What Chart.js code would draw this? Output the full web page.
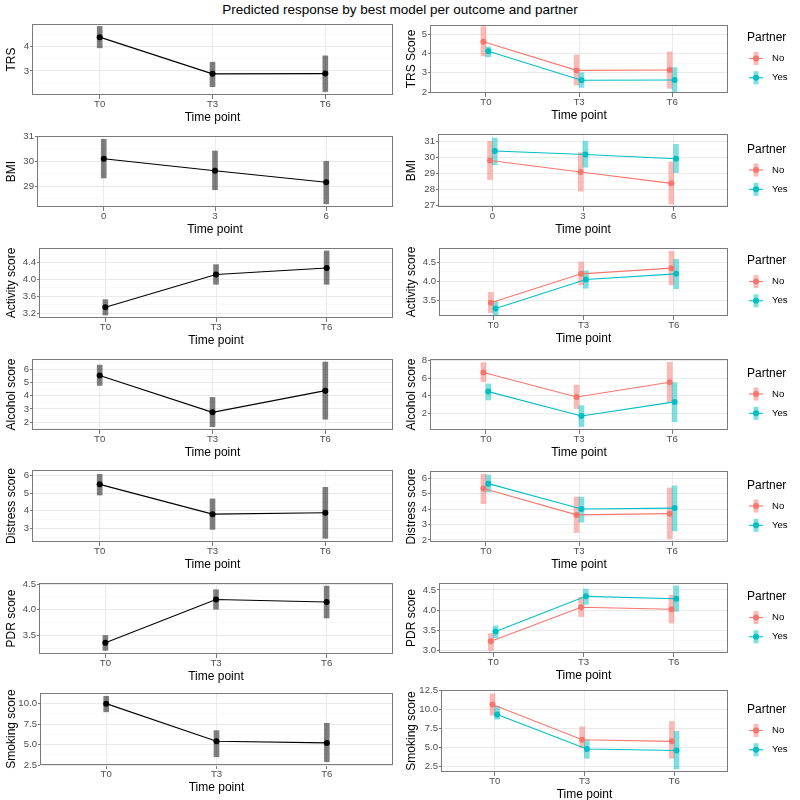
<!DOCTYPE html>
<html><head><meta charset="utf-8">
<script src="https://cdn.jsdelivr.net/npm/chart.js@4.4.1/dist/chart.umd.min.js"></script>
<style>
body{margin:0;background:#fff;width:800px;height:800px;position:relative;overflow:hidden;font-family:"Liberation Sans",Arial,sans-serif}
canvas{position:absolute}
#title{position:absolute;left:0;top:2px;width:800px;text-align:center;font-size:13.5px;color:#000;line-height:16px}
</style></head><body>
<div id="title">Predicted response by best model per outcome and partner</div>
<script>
// ---------- categories ----------
const timeLabelsT = ["T0", "T3", "T6"];
const timeLabelsBMI = ["0", "3", "6"];
const partnerGroups = ["No", "Yes"];

// ---------- TRS ----------
const trsMean = [4.39, 2.88, 2.89];
const trsLow = [3.95, 2.35, 2.15];
const trsHigh = [4.83, 3.36, 3.62];
const trsNoMean = [4.60, 3.12, 3.14];
const trsNoLow = [3.87, 2.36, 2.19];
const trsNoHigh = [5.38, 3.92, 4.08];
const trsYesMean = [4.11, 2.61, 2.62];
const trsYesLow = [3.82, 2.24, 1.97];
const trsYesHigh = [4.34, 3.00, 3.27];
const trsTicksL = ["3", "4"];
const trsTicksR = ["2", "3", "4", "5"];

// ---------- BMI ----------
const bmiMean = [30.10, 29.62, 29.16];
const bmiLow = [29.33, 28.86, 28.30];
const bmiHigh = [30.88, 30.41, 30.00];
const bmiNoMean = [29.79, 29.07, 28.36];
const bmiNoLow = [28.60, 27.87, 27.06];
const bmiNoHigh = [31.00, 30.28, 29.70];
const bmiYesMean = [30.39, 30.17, 29.90];
const bmiYesLow = [29.53, 29.37, 29.03];
const bmiYesHigh = [31.20, 31.00, 30.80];
const bmiTicksL = ["29", "30", "31"];
const bmiTicksR = ["27", "28", "29", "30", "31"];

// ---------- Activity ----------
const actMean = [3.34, 4.11, 4.26];
const actLow = [3.16, 3.88, 3.88];
const actHigh = [3.52, 4.34, 4.66];
const actNoMean = [3.43, 4.19, 4.34];
const actNoLow = [3.17, 3.90, 3.90];
const actNoHigh = [3.70, 4.50, 4.78];
const actYesMean = [3.28, 4.04, 4.19];
const actYesLow = [3.10, 3.81, 3.80];
const actYesHigh = [3.46, 4.27, 4.57];
const actTicksL = ["3.2", "3.6", "4.0", "4.4"];
const actTicksR = ["3.5", "4.0", "4.5"];

// ---------- Alcohol ----------
const alcMean = [5.52, 2.75, 4.38];
const alcLow = [4.77, 1.67, 2.23];
const alcHigh = [6.30, 3.87, 6.53];
const alcNoMean = [6.66, 3.85, 5.53];
const alcNoLow = [5.58, 2.50, 3.30];
const alcNoHigh = [7.77, 5.20, 7.81];
const alcYesMean = [4.46, 1.66, 3.28];
const alcYesLow = [3.50, 0.45, 1.02];
const alcYesHigh = [5.34, 2.85, 5.50];
const alcTicksL = ["2", "3", "4", "5", "6"];
const alcTicksR = ["2", "4", "6", "8"];

// ---------- Distress ----------
const disMean = [5.51, 3.81, 3.89];
const disLow = [4.90, 2.94, 2.43];
const disHigh = [6.08, 4.68, 5.34];
const disNoMean = [5.33, 3.62, 3.70];
const disNoLow = [4.35, 2.48, 2.07];
const disNoHigh = [6.26, 4.78, 5.37];
const disYesMean = [5.65, 4.00, 4.06];
const disYesLow = [5.10, 3.15, 2.58];
const disYesHigh = [6.21, 4.78, 5.50];
const disTicksL = ["3", "4", "5", "6"];
const disTicksR = ["2", "3", "4", "5", "6"];

// ---------- PDR ----------
const pdrMean = [3.36, 4.20, 4.15];
const pdrLow = [3.21, 4.01, 3.84];
const pdrHigh = [3.50, 4.39, 4.46];
const pdrNoMean = [3.23, 4.07, 4.02];
const pdrNoLow = [3.00, 3.84, 3.68];
const pdrNoHigh = [3.42, 4.32, 4.37];
const pdrYesMean = [3.47, 4.34, 4.28];
const pdrYesLow = [3.32, 4.14, 3.97];
const pdrYesHigh = [3.61, 4.52, 4.60];
const pdrTicksL = ["3.5", "4.0", "4.5"];
const pdrTicksR = ["3.0", "3.5", "4.0", "4.5"];

// ---------- Smoking ----------
const smkMean = [10.0, 5.4, 5.2];
const smkLow = [9.0, 3.5, 2.9];
const smkHigh = [10.9, 6.7, 7.6];
const smkNoMean = [10.6, 6.0, 5.8];
const smkNoLow = [9.2, 5.0, 3.6];
const smkNoHigh = [12.0, 7.7, 8.4];
const smkYesMean = [9.3, 4.8, 4.6];
const smkYesLow = [8.7, 3.6, 2.2];
const smkYesHigh = [10.4, 6.0, 7.1];
const smkTicksL = ["2.5", "5.0", "7.5", "10.0"];
const smkTicksR = ["2.5", "5.0", "7.5", "10.0", "12.5"];

// ---------- panel definitions ----------
const outcomes = [
  {x: timeLabelsT, lt: "TRS", lticks: trsTicksL, l: [trsMean, trsLow, trsHigh],
   rt: "TRS Score", rticks: trsTicksR, no: [trsNoMean, trsNoLow, trsNoHigh], yes: [trsYesMean, trsYesLow, trsYesHigh]},
  {x: timeLabelsBMI, lt: "BMI", lticks: bmiTicksL, l: [bmiMean, bmiLow, bmiHigh],
   rt: "BMI", rticks: bmiTicksR, no: [bmiNoMean, bmiNoLow, bmiNoHigh], yes: [bmiYesMean, bmiYesLow, bmiYesHigh]},
  {x: timeLabelsT, lt: "Activity score", lticks: actTicksL, l: [actMean, actLow, actHigh],
   rt: "Activity score", rticks: actTicksR, no: [actNoMean, actNoLow, actNoHigh], yes: [actYesMean, actYesLow, actYesHigh]},
  {x: timeLabelsT, lt: "Alcohol score", lticks: alcTicksL, l: [alcMean, alcLow, alcHigh],
   rt: "Alcohol score", rticks: alcTicksR, no: [alcNoMean, alcNoLow, alcNoHigh], yes: [alcYesMean, alcYesLow, alcYesHigh]},
  {x: timeLabelsT, lt: "Distress score", lticks: disTicksL, l: [disMean, disLow, disHigh],
   rt: "Distress score", rticks: disTicksR, no: [disNoMean, disNoLow, disNoHigh], yes: [disYesMean, disYesLow, disYesHigh]},
  {x: timeLabelsT, lt: "PDR score", lticks: pdrTicksL, l: [pdrMean, pdrLow, pdrHigh],
   rt: "PDR score", rticks: pdrTicksR, no: [pdrNoMean, pdrNoLow, pdrNoHigh], yes: [pdrYesMean, pdrYesLow, pdrYesHigh]},
  {x: timeLabelsT, lt: "Smoking score", lticks: smkTicksL, l: [smkMean, smkLow, smkHigh],
   rt: "Smoking score", rticks: smkTicksR, no: [smkNoMean, smkNoLow, smkNoHigh], yes: [smkYesMean, smkYesLow, smkYesHigh]}
];

// layout: plot-area box (page px) and axis limits for each panel
const panelLayout = [
  {L: {px: 32, top: 24, bot: 95, min: 2.01, max: 4.93},   R: {px: 430, top: 25, bot: 93, min: 1.95, max: 5.47}},
  {L: {px: 37, top: 136, bot: 207, min: 28.17, max: 31.01}, R: {px: 438, top: 134, bot: 207, min: 26.88, max: 31.45}},
  {L: {px: 39, top: 248, bot: 318, min: 3.09, max: 4.73},  R: {px: 439, top: 248, bot: 316, min: 3.08, max: 4.87}},
  {L: {px: 32, top: 359, bot: 430, min: 1.42, max: 6.76},  R: {px: 430, top: 359, bot: 430, min: 0.06, max: 8.2}},
  {L: {px: 32, top: 470, bot: 542, min: 2.22, max: 6.33},  R: {px: 430, top: 471, bot: 542, min: 1.86, max: 6.47}},
  {L: {px: 39, top: 583, bot: 654, min: 3.14, max: 4.52},  R: {px: 439, top: 583, bot: 653, min: 2.94, max: 4.67}},
  {L: {px: 40, top: 693, bot: 765, min: 2.5, max: 11.3},   R: {px: 441, top: 690, bot: 772, min: 1.8, max: 12.5}}
];

const FONT = "'Liberation Sans', Arial, sans-serif";
const COL_NO = "#F8766D", COL_YES = "#00BFC4";
const FILL_NO = "rgba(248,118,109,0.5)", FILL_YES = "rgba(0,191,196,0.5)";
const DODGE = 0.026;

const borderPlugin = {
  id: 'panelBorder',
  afterDatasetsDraw(chart) {
    const a = chart.chartArea, ctx = chart.ctx;
    ctx.save();
    ctx.strokeStyle = '#7a7a7a';
    ctx.lineWidth = 1;
    ctx.strokeRect(Math.round(a.left) + 0.5, Math.round(a.top) + 0.5, Math.round(a.right - a.left) - 1, Math.round(a.bottom - a.top) - 1);
    ctx.restore();
  }
};

function legendPlugin(canvasLeft) {
  return {
    id: 'partnerLegend',
    afterDraw(chart) {
      const a = chart.chartArea, ctx = chart.ctx;
      const mid = (a.top + a.bottom) / 2;
      ctx.save();
      ctx.font = '12px ' + FONT;
      ctx.fillStyle = '#000';
      ctx.textBaseline = 'middle';
      ctx.textAlign = 'left';
      ctx.fillText('Partner', 747 - canvasLeft, mid - 21);
      const kx = 756 - canvasLeft;
      const rows = [[partnerGroups[0], COL_NO, FILL_NO, mid - 0.5], [partnerGroups[1], COL_YES, FILL_YES, mid + 18.8]];
      rows.forEach(([lab, col, fill, y]) => {
        ctx.fillStyle = fill;
        ctx.fillRect(kx - 2.5, y - 6.5, 5, 13);
        ctx.strokeStyle = col; ctx.lineWidth = 1.1;
        ctx.beginPath(); ctx.moveTo(kx - 7, y); ctx.lineTo(kx + 7, y); ctx.stroke();
        ctx.fillStyle = col;
        ctx.beginPath(); ctx.arc(kx, y, 3, 0, Math.PI * 2); ctx.fill();
        ctx.fillStyle = '#000';
        ctx.font = '9.6px ' + FONT;
        ctx.fillText(lab, 772 - canvasLeft, y);
      });
      ctx.restore();
    }
  };
}

function rangeData(low, high, off) { return low.map((l, i) => ({x: i + 1 + off, y: [l, high[i]]})); }
function pointData(mean, off) { return mean.map((v, i) => ({x: i + 1 + off, y: v})); }

function makePanel(o, lay, side) {
  const canvasLeft = side === 'L' ? 0 : 400;
  const canvasW = 400;
  const plotRight = side === 'L' ? 393 : 728;
  const padTop = 8, xh = 30;
  const cv = document.createElement('canvas');
  const h = (lay.bot - lay.top) + padTop + xh;
  cv.width = canvasW; cv.height = h;
  cv.style.left = canvasLeft + 'px';
  cv.style.top = (lay.top - padTop) + 'px';
  cv.style.width = canvasW + 'px'; cv.style.height = h + 'px';
  document.body.appendChild(cv);

  const tickStrs = side === 'L' ? o.lticks : o.rticks;
  const yTitle = side === 'L' ? o.lt : o.rt;
  let datasets = [];
  if (side === 'L') {
    const [m, lo, hi] = o.l;
    datasets.push({type: 'bar', data: rangeData(lo, hi, 0), backgroundColor: 'rgba(0,0,0,0.5)', order: 2});
    datasets.push({type: 'line', data: pointData(m, 0), borderColor: '#000', pointBackgroundColor: '#000', order: 1});
  } else {
    const [nm, nl, nh] = o.no, [ym, yl, yh] = o.yes;
    datasets.push({type: 'bar', data: rangeData(nl, nh, -DODGE), backgroundColor: FILL_NO, order: 4});
    datasets.push({type: 'bar', data: rangeData(yl, yh, DODGE), backgroundColor: FILL_YES, order: 3});
    datasets.push({type: 'line', data: pointData(nm, -DODGE), borderColor: COL_NO, pointBackgroundColor: COL_NO, order: 2});
    datasets.push({type: 'line', data: pointData(ym, DODGE), borderColor: COL_YES, pointBackgroundColor: COL_YES, order: 1});
  }
  datasets.forEach(d => {
    if (d.type === 'bar') { d.barThickness = 5; d.grouped = false; d.borderWidth = 0; }
    else { d.borderWidth = 1.1; d.pointRadius = 3; d.pointBorderWidth = 0; d.tension = 0; d.fill = false; }
  });

  const plugins = [borderPlugin];
  if (side === 'R') plugins.push(legendPlugin(canvasLeft));

  new Chart(cv, {
    type: 'line',
    data: {datasets},
    plugins,
    options: {
      responsive: false, animation: false, events: [],
      layout: {padding: {top: padTop, right: canvasLeft + canvasW - plotRight, left: 0, bottom: 0}},
      plugins: {legend: {display: false}, tooltip: {enabled: false}},
      scales: {
        x: {
          type: 'linear', min: 0.4, max: 3.6, offset: false,
          afterBuildTicks: ax => { ax.ticks = [1, 2, 3].map(v => ({value: v})); },
          afterFit: ax => { ax.height = xh; },
          ticks: {autoSkip: false, maxRotation: 0, padding: 0, color: '#4D4D4D', font: {family: FONT, size: 9.6},
                  callback: v => o.x[Math.round(v) - 1]},
          grid: {color: '#EBEBEB', lineWidth: 1, drawTicks: true, tickLength: 4, tickColor: '#555', tickWidth: 0.8, offset: false},
          border: {display: false},
          title: {display: true, text: 'Time point', color: '#000', font: {family: FONT, size: 12}, padding: {top: 0, bottom: 0}}
        },
        y: {
          type: 'linear', min: lay.min, max: lay.max,
          afterBuildTicks: ax => {
            const maj = tickStrs.map(s => parseFloat(s));
            const step = maj.length > 1 ? maj[1] - maj[0] : 1;
            const all = [];
            maj.forEach((v, i) => all.push({value: v, label0: tickStrs[i], minor: false}));
            for (let i = -1; i < maj.length; i++) {
              const v = (i < 0 ? maj[0] - step : maj[i]) + step / 2;
              if (v > lay.min && v < lay.max) all.push({value: v, minor: true});
            }
            ax.ticks = all.filter(t => t.value >= lay.min && t.value <= lay.max).sort((a, b) => a.value - b.value);
          },
          afterFit: ax => { ax.width = lay.px - canvasLeft; },
          ticks: {autoSkip: false, padding: 1, color: '#4D4D4D', font: {family: FONT, size: 9.6},
                  callback: (v, i, ticks) => ticks[i].minor ? '' : ticks[i].label0},
          grid: {
            color: c => (c.tick && c.tick.minor) ? '#F4F4F4' : '#EBEBEB',
            lineWidth: c => (c.tick && c.tick.minor) ? 0.6 : 1,
            drawTicks: true, tickLength: 2,
            tickColor: '#555',
            tickWidth: c => (c.tick && c.tick.minor) ? 0 : 0.8
          },
          border: {display: false},
          title: {display: true, text: yTitle, color: '#000', font: {family: FONT, size: 12}, padding: {top: 4, bottom: 0}}
        }
      }
    }
  });
}

outcomes.forEach((o, r) => {
  makePanel(o, panelLayout[r].L, 'L');
  makePanel(o, panelLayout[r].R, 'R');
});
</script>
</body></html>
